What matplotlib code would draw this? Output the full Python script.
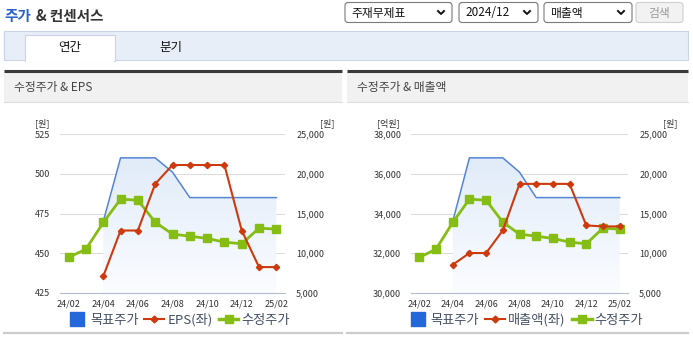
import numpy as np
import matplotlib
matplotlib.use('Agg')
import matplotlib.pyplot as plt
from matplotlib.patches import Rectangle, FancyBboxPatch
from matplotlib.lines import Line2D
from matplotlib.colors import LinearSegmentedColormap

plt.rcParams['font.family'] = ['Noto Sans CJK KR', 'DejaVu Sans']

# Data
months = ['24/02', '24/03', '24/04', '24/05', '24/06', '24/07', '24/08',
          '24/09', '24/10', '24/11', '24/12', '25/01', '25/02']
target_price = [np.nan, np.nan, 14000, 22000, 22000, 22000, 20200,
                17000, 17000, 17000, 17000, 17000, 17000]
adj_price = [9480, 10520, 13870, 16800, 16670, 13910, 12400,
             12150, 11860, 11400, 11190, 13160, 13030]
eps = [np.nan, np.nan, 435.5, 464.3, 464.3, 493.6, 505.5,
       505.5, 505.5, 505.5, 464.3, 441.3, 441.3]
revenue = [np.nan, np.nan, 31420, 32010, 32010, 33150, 35490,
           35490, 35490, 35490, 33400, 33350, 33350]

eps_ticks = [425, 450, 475, 500, 525]
rev_ticks = [30000, 32000, 34000, 36000, 38000]
price_ticks = [5000, 10000, 15000, 20000, 25000]

W, H = 693, 340
fig = plt.figure(figsize=(W / 100, H / 100), dpi=100)


def rect(x0, y0, x1, y1):
    return [x0 / W, 1 - y1 / H, (x1 - x0) / W, (y1 - y0) / H]


# background layer in pixel coordinates
bg = fig.add_axes([0, 0, 1, 1])
bg.set_xlim(0, W)
bg.set_ylim(H, 0)
bg.axis('off')

# title
bg.text(4, 16, '주가', color='#2a62c9', fontsize=10.5, va='center', fontweight='bold')
bg.text(36, 16, '& 컨센서스', color='#333333', fontsize=10.5, va='center', fontweight='bold')

# dropdowns
for x0, x1, label in [(345, 452, '주재무제표'), (459, 538, '2024/12'), (544, 632, '매출액')]:
    bg.add_patch(FancyBboxPatch((x0, 2.5), x1 - x0, 20, boxstyle='round,pad=0,rounding_size=3',
                                fc='white', ec='#7a7a7a', lw=0.8))
    bg.text(x0 + 6, 13, label, fontsize=8.5, va='center', color='#111111')
    cx = x1 - 11
    bg.plot([cx - 3, cx, cx + 3], [11, 14, 11], color='#111111', lw=1.4)
bg.add_patch(FancyBboxPatch((636, 2.5), 47, 20, boxstyle='round,pad=0,rounding_size=3',
                            fc='#f2f2f2', ec='#cfcfcf', lw=0.8))
bg.text(659.5, 13, '검색', fontsize=8.5, va='center', ha='center', color='#9a9a9a')

# tab bar
bg.add_patch(Rectangle((4, 31), 684, 29, fc='#e8eef8', ec='#c9d4e6', lw=0.8))
bg.add_patch(Rectangle((25, 35), 90, 26, fc='white', ec='#c9d4e6', lw=0.8))
bg.add_patch(Rectangle((25.6, 59.6), 88.8, 2, fc='white', ec='none'))
bg.text(70, 47, '연간', fontsize=9, ha='center', va='center', color='#111111')
bg.text(171, 47, '분기', fontsize=9, ha='center', va='center', color='#111111')

# panel headers and bottom lines
for x0, x1, label in [(4, 342, '수정주가 & EPS'), (347, 688, '수정주가 & 매출액')]:
    bg.add_patch(Rectangle((x0, 72), x1 - x0, 30, fc='#f1f1f1', ec='none'))
    bg.plot([x0, x1], [71, 71], color='#3a3a3a', lw=2.2, solid_capstyle='butt')
    bg.plot([x0, x1], [102, 102], color='#dddddd', lw=0.8)
    bg.text(x0 + 10, 87, label, fontsize=8.5, va='center', color='#444444')
    bg.plot([x0, x1], [333, 333], color='#cccccc', lw=1.6)

x = np.arange(len(months))
grid_c = '#dcdcdc'
axis_c = '#b3bccb'
cmap = LinearSegmentedColormap.from_list('g', ['#fbfcff', '#e0ebf9'])


def make_chart(box, left_vals, left_ticks, left_fmt, left_unit, left_label, unit_x, runit_x):
    ax2 = fig.add_axes(rect(*box))
    ax = ax2.twinx()
    # left axis (EPS / revenue) goes on the left, price on the right
    ax.yaxis.tick_left()
    ax2.yaxis.tick_right()
    ax.set_zorder(ax2.get_zorder() + 1)
    ax.patch.set_visible(False)

    ax2.set_xlim(-0.5, 12.5)
    ax2.set_ylim(price_ticks[0], price_ticks[-1])
    ax.set_ylim(left_ticks[0], left_ticks[-1])
    ax2.set_yticks(price_ticks)
    ax2.set_yticklabels(['{:,}'.format(v) for v in price_ticks])
    ax.set_yticks(left_ticks)
    ax.set_yticklabels([left_fmt(v) for v in left_ticks])
    for a in (ax, ax2):
        for s in a.spines.values():
            s.set_visible(False)
        a.tick_params(axis='y', length=0, labelsize=6.5, labelcolor='#333333')
    ax.tick_params(axis='y', pad=7)
    ax2.tick_params(axis='y', pad=8)
    ax2.spines['bottom'].set_visible(True)
    ax2.spines['bottom'].set_color(axis_c)
    ax2.set_xticks([-0.5, 0.5, 2.5, 4.5, 6.5, 8.5, 10.5, 12.5])
    ax2.set_xticklabels([])
    ax2.set_xticks(x[::2], minor=True)
    ax2.set_xticklabels(months[::2], minor=True)
    ax2.tick_params(axis='x', which='major', length=4, color=axis_c)
    ax2.tick_params(axis='x', which='minor', length=0, labelsize=6.5, pad=5, labelcolor='#333333')
    ax.set_xticks([])

    for t in price_ticks[1:]:
        ax2.axhline(t, color=grid_c, lw=0.8, zorder=0)

    # target price area with a soft gradient
    tp = np.array(target_price, dtype=float)
    ok = ~np.isnan(tp)
    poly = ax2.fill_between(x[ok], tp[ok], price_ticks[0], color='none', lw=0)
    grad = np.linspace(0, 1, 256).reshape(-1, 1)
    img = ax2.imshow(grad, cmap=cmap, aspect='auto', origin='lower',
                     extent=[-0.5, 12.5, price_ticks[0], 22500], zorder=1)
    img.set_clip_path(poly.get_paths()[0], transform=ax2.transData)
    ax2.plot(x, tp, color='#5585d6', lw=1.1, zorder=2)

    ax2.plot(x, adj_price, color='#86bd14', lw=2.0, marker='s', ms=5.2,
             mfc='#86bd14', mec='#86bd14', zorder=4)
    ax.plot(x, left_vals, color='#cc3a0e', lw=1.5, marker='D', ms=3.2,
            mfc='#cc3a0e', mec='#cc3a0e', zorder=3)

    bg.text(unit_x, 123, left_unit, fontsize=6.5, ha='left', va='center', color='#333333')
    bg.text(runit_x, 123, '[원]', fontsize=6.5, ha='left', va='center', color='#333333')

    handles = [
        Line2D([], [], ls='none', marker='s', ms=10, color='#2467d8'),
        Line2D([], [], color='#cc3a0e', lw=1.5, marker='D', ms=3.5),
        Line2D([], [], color='#86bd14', lw=2.5, marker='s', ms=6),
    ]
    cx = (box[0] + box[2]) / 2 + 6
    fig.legend(handles, ['목표주가', left_label, '수정주가'], loc='center',
               bbox_to_anchor=(cx / W, 1 - 320 / H), ncol=3, frameon=False,
               fontsize=9.5, labelcolor='#445066', handlelength=1.5,
               handletextpad=0.25, columnspacing=0.45)
    return ax, ax2


make_chart((60, 134, 285, 293), eps, eps_ticks, lambda v: str(v), '[원]', 'EPS(좌)', 35, 320)
make_chart((411, 134, 628, 293), revenue, rev_ticks, lambda v: '{:,}'.format(v),
           '[억원]', '매출액(좌)', 377, 663)

fig.savefig('out.png', dpi=100)
